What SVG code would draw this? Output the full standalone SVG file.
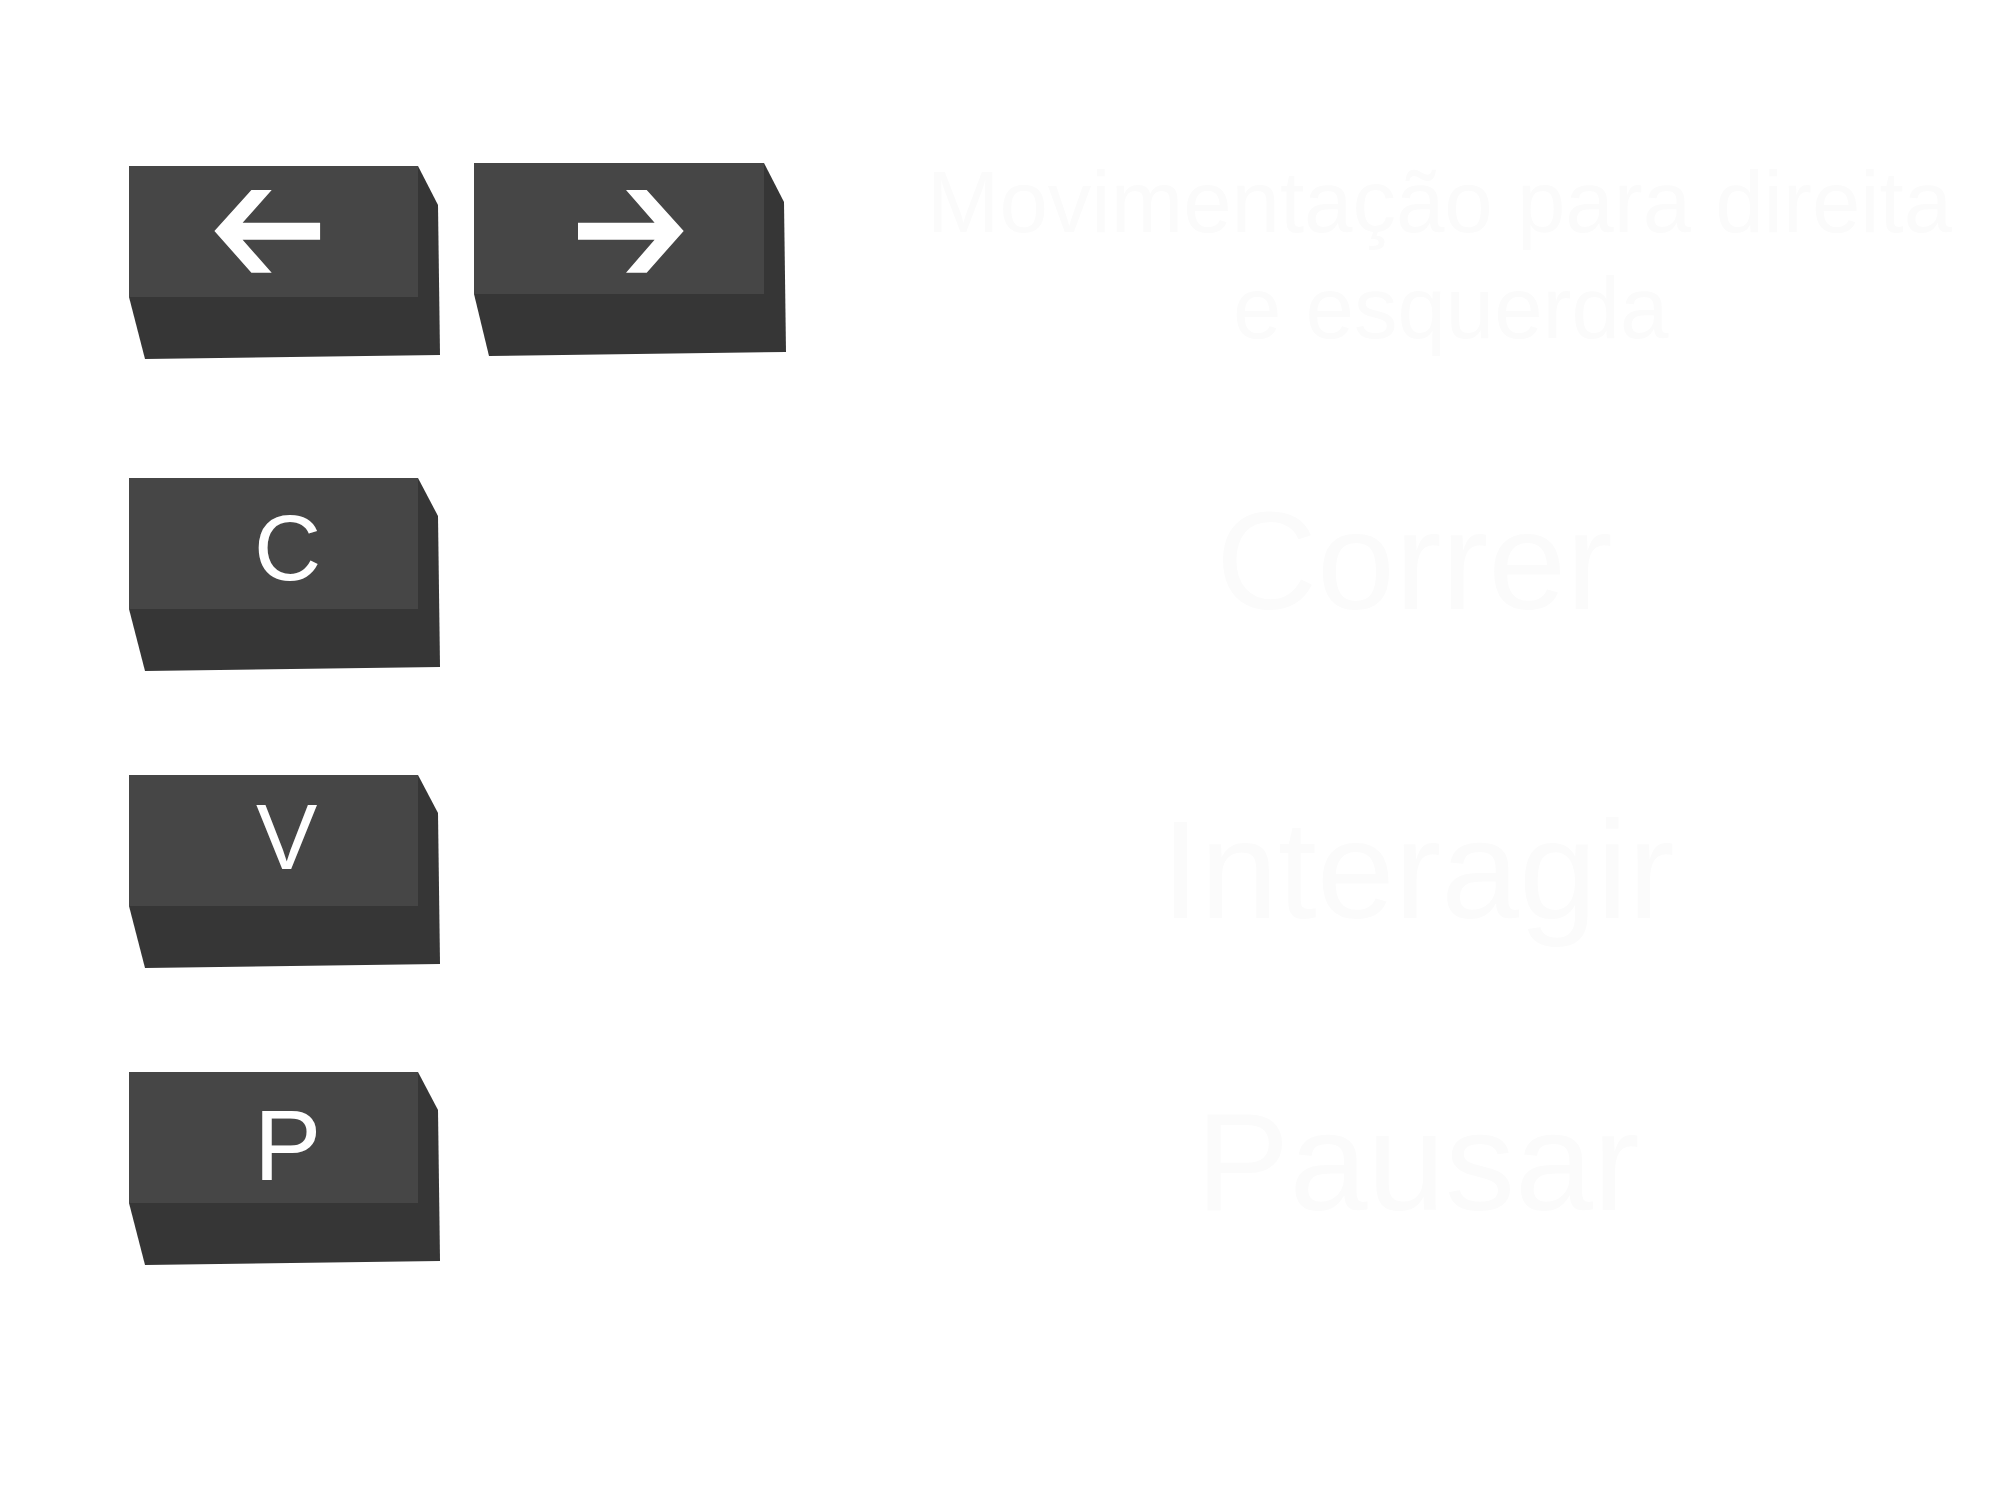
<svg xmlns="http://www.w3.org/2000/svg" width="2000" height="1500" viewBox="0 0 2000 1500">
  <style>
    .body { fill: #363636; }
    .face { fill: #464646; }
    .key { fill: #ffffff; font-family: "Liberation Sans", Arial, sans-serif; }
    .label { fill: #fbfbfb; font-family: "Liberation Sans", Arial, sans-serif; }
  </style>
  <rect x="0" y="0" width="2000" height="1500" fill="#ffffff"/>
  <g id="connectors"/>

  <g id="key-left">
    <polygon class="body" points="129,166 418,166 438,205 440,355 145,359 129,297"/>
    <rect class="face" x="129" y="166" width="289" height="131"/>
    <polygon fill="#ffffff" points="214.4,231 251.4,190 271.7,190 242.6,222.7 320.1,222.7 320.1,239.7 242.6,239.7 271.7,272.7 251.4,272.7"/>
  </g>

  <g id="key-right">
    <polygon class="body" points="474,163 764,163 784,202 786,352 489,356 474,294"/>
    <rect class="face" x="474" y="163" width="290" height="131"/>
    <polygon fill="#ffffff" points="578,222.7 654.6,222.7 626,190 646.7,190 683.7,231 646.7,272.7 626,272.7 654.6,239.7 578,239.7"/>
  </g>

  <g id="key-c">
    <polygon class="body" points="129,478 418,478 438,516 440,667 145,671 129,609"/>
    <rect class="face" x="129" y="478" width="289" height="131"/>
    <text class="key" x="254" y="580" font-size="93">C</text>
  </g>

  <g id="key-v">
    <polygon class="body" points="129,775 418,775 438,813 440,964 145,968 129,906"/>
    <rect class="face" x="129" y="775" width="289" height="131"/>
    <text class="key" x="256" y="869" font-size="92">V</text>
  </g>

  <g id="key-p">
    <polygon class="body" points="129,1072 418,1072 438,1110 440,1261 145,1265 129,1203"/>
    <rect class="face" x="129" y="1072" width="289" height="131"/>
    <text class="key" x="254" y="1180" font-size="101">P</text>
  </g>

  <g id="label-move">
    <text class="label" font-size="87">
      <tspan x="927" y="232">Movimentação para direita</tspan>
      <tspan x="1233" y="338">e esquerda</tspan>
    </text>
  </g>

  <g id="label-run">
    <text class="label" x="1216" y="609" font-size="140">Correr</text>
  </g>

  <g id="label-interact">
    <text class="label" x="1161" y="918" font-size="140">Interagir</text>
  </g>

  <g id="label-pause">
    <text class="label" x="1196" y="1210" font-size="140">Pausar</text>
  </g>
</svg>
